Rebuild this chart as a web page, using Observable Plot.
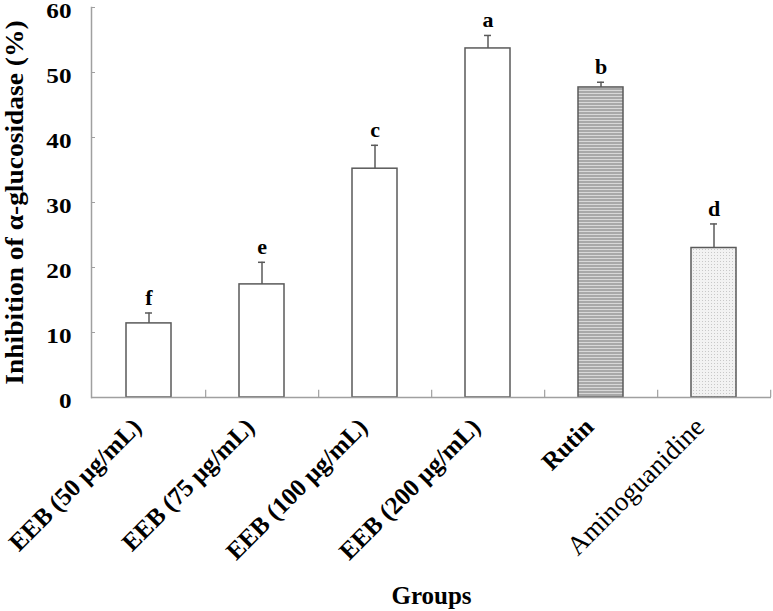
<!DOCTYPE html>
<html>
<head>
<meta charset="utf-8">
<script src="https://cdn.jsdelivr.net/npm/d3@7"></script>
<script src="https://cdn.jsdelivr.net/npm/@observablehq/plot@0.6"></script>
<style>
  html, body { margin: 0; padding: 0; background: #fff; }
  #chart svg { display: block; }
</style>
</head>
<body>
<div id="chart"></div>
<script>
const groups = ["EEB (50 μg/mL)", "EEB (75 μg/mL)", "EEB (100 μg/mL)", "EEB (200 μg/mL)", "Rutin", "Aminoguanidine"];
const values = [11.4, 17.4, 35.2, 53.7, 47.7, 23.0];
const errors = [1.6, 3.4, 3.6, 2.0, 0.8, 3.7];
const letters = ["f", "e", "c", "a", "b", "d"];
const fills = ["#ffffff", "#ffffff", "#ffffff", "#ffffff", "url(#stripes)", "url(#dots)"];
const yTicks = [0, 10, 20, 30, 40, 50, 60];

const data = groups.map((g, i) => ({group: g, value: values[i], err: errors[i], top: values[i] + errors[i], letter: letters[i], fill: fills[i]}));

const W = 773, H = 611, ML = 91, MR = 2, MT = 7, MB = 214;
const step = (W - ML - MR) / groups.length;

const plot = Plot.plot({
  width: W, height: H,
  marginLeft: ML, marginRight: MR, marginTop: MT, marginBottom: MB,
  style: {fontFamily: "'Liberation Serif', 'Times New Roman', serif", background: "#fff", overflow: "visible"},
  x: {domain: groups, paddingInner: 0.6, paddingOuter: 0.3, axis: null},
  y: {domain: [0, 60], axis: null},
  marks: [
    Plot.frame({anchor: "left", stroke: "#a0a0a0", strokeWidth: 1.5}),
    Plot.axisY({ticks: yTicks, tickSize: 0, tickPadding: 20, dy: 4, fontSize: 21, fontWeight: "bold", fill: "#000", label: null, className: "ytl"}),
    Plot.axisY({ticks: yTicks, tickSize: -4, tickFormat: () => "", stroke: "#a0a0a0", label: null}),
    Plot.barY(data, {x: "group", y: "value", fill: d => d.fill, stroke: "#5a5a5a", strokeWidth: 1.5}),
    Plot.ruleX(data, {x: "group", y1: "value", y2: "top", stroke: "#5a5a5a", strokeWidth: 1.5}),
    Plot.tickY(data, {x: "group", y: "top", stroke: "#5a5a5a", strokeWidth: 1.5, insetLeft: 19, insetRight: 19}),
    Plot.text(data, {x: "group", y: "top", text: "letter", dy: -15, fontSize: 22, fontWeight: "bold", fill: "#000"}),
    Plot.ruleY([0], {stroke: "#a0a0a0", strokeWidth: 1.5}),
    Plot.ruleX(groups, {x: d => d, y1: 0, y2: 1.1, dx: step / 2, stroke: "#a0a0a0", strokeWidth: 1.2}),
    Plot.text(groups.slice(0, 5), {x: d => d, text: d => d, frameAnchor: "bottom", rotate: -45, textAnchor: "end", dx: -6, dy: 31, fontSize: 25, fontWeight: "bold", fill: "#000"}),
    Plot.text(groups.slice(5), {x: d => d, text: d => d, frameAnchor: "bottom", rotate: -45, textAnchor: "end", dx: -8, dy: 31, fontSize: 27, fontWeight: "normal", fill: "#000"}),
    Plot.text(["Groups"], {text: d => d, frameAnchor: "bottom", dy: 206, fontSize: 25, fontWeight: "bold", fill: "#000"}),
    Plot.text(["Inhibition of α-glucosidase (%)"], {text: d => d, frameAnchor: "left", textAnchor: "middle", rotate: -90, dx: -77, fontSize: 25, fontWeight: "bold", fill: "#000", className: "ytitle"})
  ]
});

const svg = d3.select(plot);
const defs = svg.insert("defs", ":first-child");
const st = defs.append("pattern").attr("id", "stripes").attr("patternUnits", "userSpaceOnUse").attr("width", 8).attr("height", 3);
st.append("rect").attr("width", 8).attr("height", 3).attr("fill", "#a8a8a8");
st.append("rect").attr("y", 0).attr("width", 8).attr("height", 1).attr("fill", "#d8d8d8");
const dt = defs.append("pattern").attr("id", "dots").attr("patternUnits", "userSpaceOnUse").attr("width", 3).attr("height", 3);
dt.append("rect").attr("width", 3).attr("height", 3).attr("fill", "#f2f2f2");
dt.append("rect").attr("width", 1).attr("height", 1).attr("fill", "#c8c8c8");
// widen texts along their run direction as in the reference
function stretch(sel, sx) {
  svg.selectAll(sel).each(function() {
    const t = this.getAttribute("transform") || "";
    this.setAttribute("transform", t + ` scale(${sx},1)`);
  });
}
stretch("g.ytl text", 1.2);
stretch("g.ytitle text", 1.1);

document.getElementById("chart").appendChild(plot);
</script>
</body>
</html>
